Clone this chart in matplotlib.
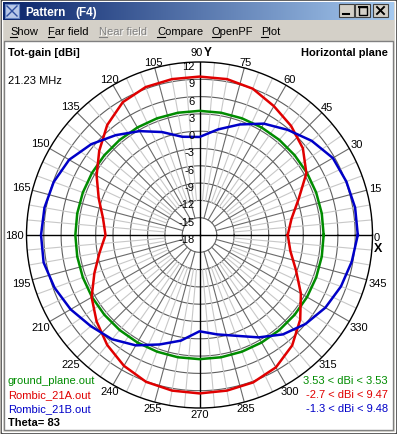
import numpy as np
import matplotlib
matplotlib.use('Agg')
import matplotlib.pyplot as plt
from matplotlib.patches import Rectangle
from matplotlib.colors import LinearSegmentedColormap

plt.rcParams['font.family'] = ['Liberation Sans', 'DejaVu Sans']

# ---------------- data (dBi, horizontal plane, theta = 83) ----------------
angles_deg = [0, 10, 20, 30, 40, 50, 60, 70, 80, 90, 100, 110, 120, 130, 140, 150, 160, 170,
              180, 190, 200, 210, 220, 230, 240, 250, 260, 270, 280, 290, 300, 310, 320, 330, 340, 350]
ground_plane = [3.53, 3.53, 3.53, 3.53, 3.53, 3.53, 3.53, 3.53, 3.53, 3.53, 3.53, 3.53,
                3.53, 3.53, 3.53, 3.53, 3.53, 3.53, 3.53, 3.53, 3.53, 3.53, 3.53, 3.53,
                3.53, 3.53, 3.53, 3.53, 3.53, 3.53, 3.53, 3.53, 3.53, 3.53, 3.53, 3.53]
rombic_21a = [-2.7, -1.8, 0.3, 3.4, 5.4, 6.7, 7.8, 9.0, 9.45, 9.47, 9.45, 9.3,
              8.6, 6.9, 4.7, 2.6, 0.6, -1.0, -1.7, -0.4, 1.4, 3.6, 5.3, 6.9,
              8.2, 9.1, 9.4, 9.47, 9.4, 9.2, 8.5, 7.0, 4.8, 2.3, -0.2, -2.0]
rombic_21b = [9.45, 9.4, 9.1, 8.7, 7.4, 5.8, 4.3, 2.4, 0.6, -1.0, -0.7, 1.0,
              2.8, 4.6, 6.5, 8.1, 8.9, 9.3, 9.48, 9.45, 8.75, 7.8, 6.6, 5.6,
              4.1, 2.2, 0.6, -1.3, -0.5, 0.6, 2.5, 4.5, 6.0, 7.2, 8.1, 8.8]
series_names = ['ground_plane.out', 'Rombic_21A.out', 'Rombic_21B.out']
series_colors = ['#008c00', '#e00000', '#0000c8']
range_labels = ['3.53 < dBi < 3.53', '-2.7 < dBi < 9.47', '-1.3 < dBi < 9.48']
ring_values = [12, 9, 6, 3, 0, -3, -6, -9, -12, -15, -18]
angle_ticks = [15, 30, 45, 60, 75, 105, 120, 135, 150, 165, 180, 195, 210, 225, 240, 255,
               270, 285, 300, 315, 330, 345]
menu_items = ['Show', 'Far field', 'Near field', 'Compare', 'OpenPF', 'Plot']

# ---------------- figure & window chrome ----------------
W, H = 397, 435
fig = plt.figure(figsize=(W / 100, H / 100), dpi=100, facecolor='#D4D0C8')
bg = fig.add_axes([0, 0, 1, 1])
bg.axis('off')

bg.add_patch(Rectangle((0.5, 0.5), W - 1.5, H - 1.5, fill=False, ec='#404040', lw=1))
bg.add_patch(Rectangle((1.5, 1.5), W - 3.5, H - 3.5, fill=False, ec='#FFFFFF', lw=1))
grad = np.linspace(0, 1, 256).reshape(1, -1)
tcmap = LinearSegmentedColormap.from_list('title', ['#0A246A', '#A6CAF0'])
bg.imshow(grad, cmap=tcmap, extent=(3, 394, 21, 3), aspect='auto', zorder=1)
bg.set_xlim(0, W)
bg.set_ylim(H, 0)
bg.add_patch(Rectangle((5, 5), 14, 14, fc='#B8C8E8', ec='#6080C0', lw=0.8, zorder=2))
bg.plot([7, 17], [7, 17], color='#3050A0', lw=1, zorder=3)
bg.plot([7, 17], [17, 7], color='#3050A0', lw=1, zorder=3)
bg.text(25, 13, 'Pattern', color='white', fontsize=8.5, fontweight='bold', va='center', zorder=3)
bg.text(75, 13, '(F4)', color='white', fontsize=8.5, fontweight='bold', va='center', zorder=3)
for bx in (339, 355, 373):
    bg.add_patch(Rectangle((bx, 5), 15, 13, fc='#D4D0C8', ec='#404040', lw=0.8, zorder=3))
bg.plot([343, 349], [15, 15], color='black', lw=1.5, zorder=4)
bg.add_patch(Rectangle((358.5, 7.5), 8, 8, fill=False, ec='black', lw=1, zorder=4))
bg.plot([358.5, 366.5], [8, 8], color='black', lw=1.5, zorder=4)
bg.plot([377, 384], [8, 15], color='black', lw=1.4, zorder=4)
bg.plot([377, 384], [15, 8], color='black', lw=1.4, zorder=4)

menu_x = [10, 48, 99, 157, 212, 261]
first_w = [7, 6, 8, 8, 8, 7]
for name, mx, fw in zip(menu_items, menu_x, first_w):
    if name == 'Near field':
        bg.text(mx + 1, 33, name, color='white', fontsize=8, va='center')
        bg.text(mx, 32, name, color='#808080', fontsize=8, va='center')
        bg.plot([mx, mx + fw], [37.5, 37.5], color='#808080', lw=0.8)
    else:
        bg.text(mx, 32, name, color='black', fontsize=8, va='center')
        bg.plot([mx, mx + fw], [37.5, 37.5], color='black', lw=0.8)

bg.add_patch(Rectangle((4, 42), 389, 389, fc='white', ec='#808080', lw=1, zorder=0.5))

bg.text(8, 53, 'Tot-gain [dBi]', fontsize=8, fontweight='bold', va='center')
bg.text(388, 53, 'Horizontal plane', fontsize=8, fontweight='bold', va='center', ha='right')
bg.text(8, 81, '21.23 MHz', fontsize=8, va='center')
for i, (nm, col, rl) in enumerate(zip(series_names, series_colors, range_labels)):
    y = 381 + 14 * i
    bg.text(8, y, nm, color=col, fontsize=8, va='center')
    bg.text(388, y, rl, color=col, fontsize=8, va='center', ha='right')
bg.text(8, 423, 'Theta= 83', fontsize=8, fontweight='bold', va='center')

# ---------------- polar plot ----------------
CX, CY, RPX = 199.5, 236.0, 173.0
ax = fig.add_axes([(CX - RPX) / W, (H - CY - RPX) / H, 2 * RPX / W, 2 * RPX / H],
                  projection='polar')
ax.set_theta_zero_location('E')
ax.set_theta_direction(1)
ax.set_rlim(-18, 12)
ax.set_xticks([])
ax.set_yticks([])
ax.grid(False)
ax.patch.set_alpha(0)
ax.spines['polar'].set_color('black')
ax.spines['polar'].set_linewidth(1.0)

full = np.linspace(0, 2 * np.pi, 721)
for v in ring_values[1:-1]:
    ax.plot(full, np.full_like(full, v), color='#5f5f5f', lw=0.8, zorder=1)

for a in range(0, 360, 5):
    th = np.deg2rad(a)
    if a % 90 == 0:
        ax.plot([th, th], [-18, 12], color='black', lw=1.0, zorder=2)
    elif a % 15 == 0:
        ax.plot([th, th], [-15, 12], color='#6a6a6a', lw=0.8, zorder=1.5)
    else:
        ax.plot([th, th], [-12, 12], color='#c8c8c8', lw=0.8, zorder=1.2)

th_data = np.deg2rad(angles_deg + [angles_deg[0]])
for vals, col in zip([ground_plane, rombic_21a, rombic_21b], series_colors):
    ax.plot(th_data, vals + [vals[0]], color=col, lw=1.8, zorder=5, solid_joinstyle='round')

for v in ring_values:
    ax.annotate(str(v), xy=(np.pi / 2, v), xytext=(-5, -4), textcoords='offset pixels',
                ha='right', va='center', fontsize=8, zorder=6)


def px_to_db(rpx):
    return -18 + rpx * 30.0 / RPX


for a in angle_ticks:
    lab = str(a)
    c2 = np.cos(np.deg2rad(a)) ** 2
    rpx = 179 + (6 if len(lab) == 3 else 3) * c2
    ax.text(np.deg2rad(a), px_to_db(rpx), lab, ha='center', va='center', fontsize=8)

ax.annotate('0', xy=(0, 12), xytext=(1.5, -2.5), textcoords='offset pixels',
            ha='left', va='center', fontsize=8)
ax.annotate('X', xy=(0, 12), xytext=(1.5, -13), textcoords='offset pixels',
            ha='left', va='center', fontsize=9, fontweight='bold')
ax.annotate('90', xy=(np.pi / 2, 12), xytext=(-3, 10), textcoords='offset pixels',
            ha='center', va='center', fontsize=8)
ax.annotate('Y', xy=(np.pi / 2, 12), xytext=(4, 10), textcoords='offset pixels',
            ha='left', va='center', fontsize=8.5, fontweight='bold')

fig.savefig('out.png', dpi=100, facecolor=fig.get_facecolor())
